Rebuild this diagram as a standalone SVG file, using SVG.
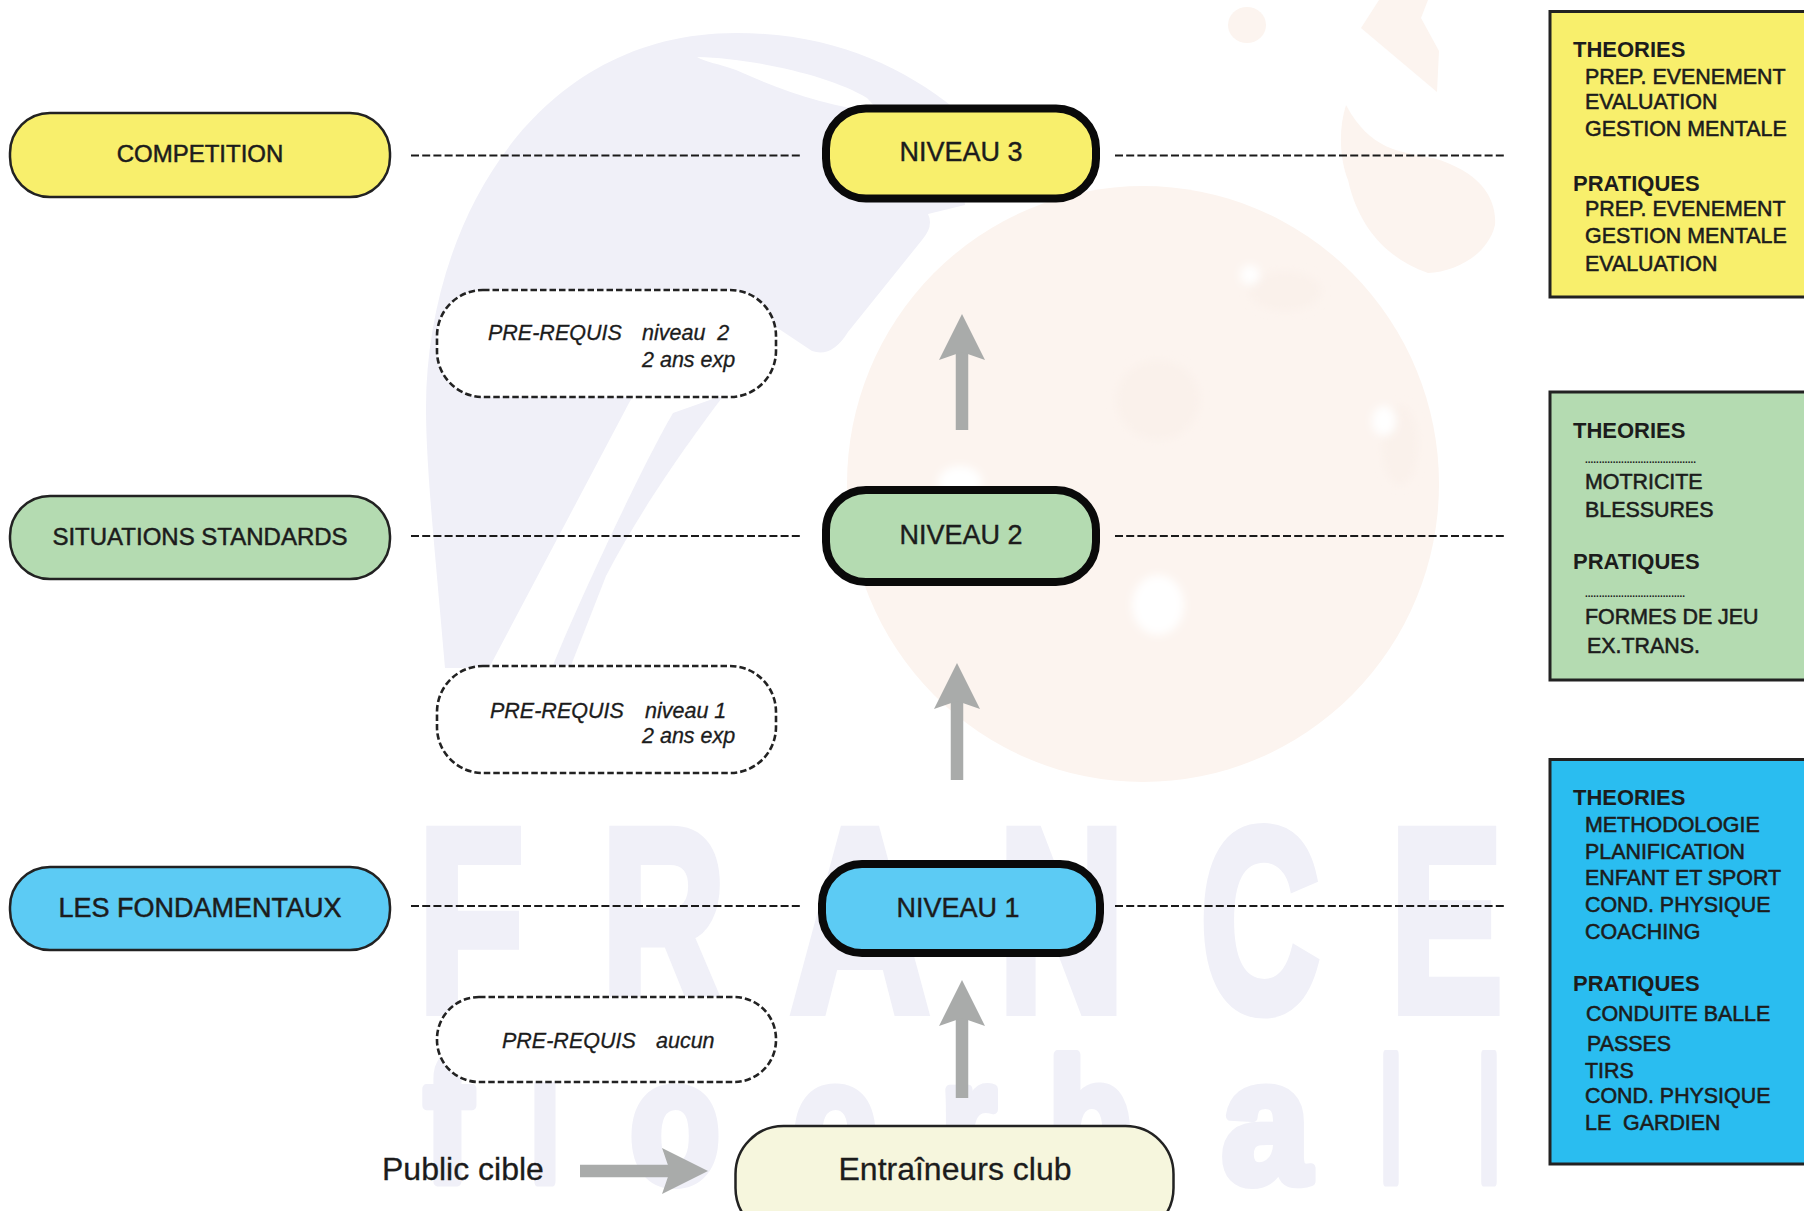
<svg xmlns="http://www.w3.org/2000/svg" width="1804" height="1211" viewBox="0 0 1804 1211">
<style>
text{font-family:"Liberation Sans",Arial,sans-serif;fill:#1c1c1c;white-space:pre}
.pill{stroke:#222;stroke-width:2.5}
.lvl{stroke:#0a0a0a;stroke-width:8}
.lbl{font-size:24px;text-anchor:middle;stroke:#1c1c1c;stroke-width:.5}
.lbl27{font-size:27px}
.lvt{font-size:27px;text-anchor:middle;stroke:#1c1c1c;stroke-width:.4}
.big{font-size:32px;stroke:#1c1c1c;stroke-width:.3}
.req{fill:#fff;stroke:#222;stroke-width:2.6;stroke-dasharray:6.500 3}
.rq{font-size:21.500px;font-style:italic;stroke:#1c1c1c;stroke-width:.3}
.box{stroke:#222;stroke-width:3}
.h{font-size:22px;font-weight:bold}
.i{font-size:21.400px;stroke:#1c1c1c;stroke-width:.55}
.dots{font-size:10px;font-weight:bold}
.dash{stroke:#1a1a1a;stroke-width:2.2;stroke-dasharray:8 3.2;fill:none}
.arrow{stroke:#a9abaa;stroke-width:12.500;fill:none;marker-end:url(#head)}
.wl{fill:#f0f0f8;stroke:#f0f0f8;stroke-width:10;font-weight:bold;font-size:262px}
.wf{fill:#f0f0f8;stroke:#f0f0f8;stroke-width:10;stroke-linejoin:round;font-weight:bold;font-size:174px}
.lav{fill:#f0f0f8}
.pch{fill:#fcf4ef}
.blank{fill:#fff}
</style>
<defs>
<marker id="head" markerUnits="userSpaceOnUse" markerWidth="46" markerHeight="46" viewBox="0 0 46 46" refX="10" refY="23" orient="auto">
<path d="M0,0 L46,23 L0,46 L8,23 Z" fill="#a9abaa"/>
</marker>
<filter id="soft" x="-30%" y="-30%" width="160%" height="160%"><feGaussianBlur stdDeviation="4"/></filter>
</defs>

<g id="watermark">
<path class="lav" d="M736,33 C830,33 900,65 954,108 L965,205 L928,214 Q934,226 922,240 L848,332 Q832,358 812,351 L776,327 L660,350 L629,403 L489,668 L445,668 C436,560 426,470 426,408 C426,230 530,33 736,33 Z"/>
<path class="blank" d="M697,57 C750,58 830,75 867,98 L880,112 C830,108 780,90 736,70 C720,64 705,62 697,57 Z"/>
<path class="lav" d="M552,668 C575,610 640,470 673,413 L724,395 C690,440 640,510 606,576 L570,668 Z"/>
<path class="pch" d="M1346,105 C1338,130 1340,160 1348,180 C1358,225 1385,258 1428,273 C1455,272 1488,255 1495,225 C1497,200 1482,172 1433,158 C1400,152 1370,150 1346,105 Z"/>
<path class="pch" d="M1379,0 L1361,28 L1437,92 L1439,51 L1421,18 L1428,0 Z"/>
<ellipse class="pch" cx="1247" cy="25" rx="19" ry="18"/>
<ellipse class="pch" cx="1143" cy="484" rx="296" ry="298"/>
<g filter="url(#soft)">
<ellipse cx="1158" cy="400" rx="42" ry="40" fill="#faf1eb"/>
<ellipse cx="1285" cy="291" rx="36" ry="20" fill="#faf1eb"/>
<ellipse cx="1400" cy="445" rx="18" ry="40" fill="#faf1eb"/>
<ellipse cx="1158" cy="605" rx="26" ry="30" fill="#fff"/>
<ellipse cx="1384" cy="421" rx="12" ry="15" fill="#fff"/>
<ellipse cx="1250" cy="275" rx="10" ry="10" fill="#fff"/>
<ellipse cx="960" cy="482" rx="22" ry="16" fill="#fff"/>
</g>
<text class="wl" x="418" y="1011" textLength="106" lengthAdjust="spacingAndGlyphs">F</text>
<text class="wl" x="601" y="1011" textLength="125" lengthAdjust="spacingAndGlyphs">R</text>
<text class="wl" x="790" y="1011" textLength="140" lengthAdjust="spacingAndGlyphs">A</text>
<text class="wl" x="998" y="1011" textLength="127" lengthAdjust="spacingAndGlyphs">N</text>
<text class="wl" x="1200" y="1011" textLength="120" lengthAdjust="spacingAndGlyphs">C</text>
<text class="wl" x="1390" y="1011" textLength="113" lengthAdjust="spacingAndGlyphs">E</text>
<text class="wf" x="424" y="1182" textLength="48" lengthAdjust="spacingAndGlyphs">f</text>
<text class="wf" x="530" y="1182" textLength="30" lengthAdjust="spacingAndGlyphs">l</text>
<text class="wf" x="630" y="1182" textLength="90" lengthAdjust="spacingAndGlyphs">o</text>
<text class="wf" x="793" y="1182" textLength="84" lengthAdjust="spacingAndGlyphs">o</text>
<text class="wf" x="940" y="1182" textLength="56" lengthAdjust="spacingAndGlyphs">r</text>
<text class="wf" x="1048" y="1182" textLength="84" lengthAdjust="spacingAndGlyphs">b</text>
<text class="wf" x="1222" y="1182" textLength="88" lengthAdjust="spacingAndGlyphs">a</text>
<text class="wf" x="1380" y="1182" textLength="22" lengthAdjust="spacingAndGlyphs">l</text>
<text class="wf" x="1478" y="1182" textLength="22" lengthAdjust="spacingAndGlyphs">l</text>
</g>

<g id="connectors">
<line class="dash" x1="411" y1="155.500" x2="803" y2="155.500"/>
<line class="dash" x1="1115" y1="155.500" x2="1507" y2="155.500"/>
<line class="dash" x1="411" y1="536" x2="803" y2="536"/>
<line class="dash" x1="1115" y1="536" x2="1507" y2="536"/>
<line class="dash" x1="411" y1="906" x2="803" y2="906"/>
<line class="dash" x1="1115" y1="906" x2="1507" y2="906"/>
<line class="arrow" x1="962" y1="430" x2="962" y2="350"/>
<line class="arrow" x1="957" y1="780" x2="957" y2="699"/>
<line class="arrow" x1="962" y1="1098" x2="962" y2="1016"/>
<line class="arrow" x1="580" y1="1171" x2="672" y2="1171"/>
</g>

<g id="competition"><rect class="pill" x="10" y="113" width="380" height="84" rx="40" fill="#f8ef6c"/><text class="lbl" x="200" y="162">COMPETITION</text></g>
<g id="situations-standards"><rect class="pill" x="10" y="496" width="380" height="83" rx="40" fill="#b4dbb1"/><text class="lbl" x="200" y="545">SITUATIONS STANDARDS</text></g>
<g id="les-fondamentaux"><rect class="pill" x="10" y="867" width="380" height="83" rx="40" fill="#5ccbf4"/><text class="lbl lbl27" x="200" y="917">LES FONDAMENTAUX</text></g>

<g id="niveau-3"><rect class="lvl" x="826" y="108.500" width="270" height="90" rx="40" fill="#f8ef6c"/><text class="lvt" x="961" y="161">NIVEAU 3</text></g>
<g id="niveau-2"><rect class="lvl" x="826" y="490" width="270" height="92" rx="40" fill="#b4dbb1"/><text class="lvt" x="961" y="544">NIVEAU 2</text></g>
<g id="niveau-1"><rect class="lvl" x="822" y="864" width="278" height="89" rx="40" fill="#5ccbf4"/><text class="lvt" x="958" y="917">NIVEAU 1</text></g>

<g id="prerequis-2"><rect class="req" x="437" y="290" width="339" height="107" rx="46"/><text class="rq" x="488" y="340">PRE-REQUIS</text><text class="rq" x="642" y="340">niveau  2</text><text class="rq" x="642" y="367">2 ans exp</text></g>
<g id="prerequis-1"><rect class="req" x="437" y="666" width="339" height="107" rx="46"/><text class="rq" x="490" y="718">PRE-REQUIS</text><text class="rq" x="645" y="718">niveau 1</text><text class="rq" x="642" y="743">2 ans exp</text></g>
<g id="prerequis-0"><rect class="req" x="437" y="997" width="339" height="85" rx="42"/><text class="rq" x="502" y="1048">PRE-REQUIS</text><text class="rq" x="656" y="1048">aucun</text></g>

<g id="public-cible"><text class="big" x="382" y="1180">Public cible</text></g>
<g id="entraineurs-club"><rect class="pill" x="735.500" y="1126" width="438" height="110" rx="48" fill="#f6f6dd"/><text class="big" x="955" y="1180" text-anchor="middle">Entraîneurs club</text></g>

<g id="panel-niveau-3"><rect class="box" x="1550" y="11.500" width="270" height="285.500" fill="#f8ef6c"/>
<text class="h" x="1573" y="57">THEORIES</text>
<text class="i" x="1585" y="84">PREP. EVENEMENT</text>
<text class="i" x="1585" y="109">EVALUATION</text>
<text class="i" x="1585" y="136">GESTION MENTALE</text>
<text class="h" x="1573" y="191">PRATIQUES</text>
<text class="i" x="1585" y="216">PREP. EVENEMENT</text>
<text class="i" x="1585" y="243">GESTION MENTALE</text>
<text class="i" x="1585" y="271">EVALUATION</text></g>

<g id="panel-niveau-2"><rect class="box" x="1550" y="392" width="270" height="288" fill="#b4dbb1"/>
<text class="h" x="1573" y="438">THEORIES</text>
<text class="dots" x="1585" y="463">........................................</text>
<text class="i" x="1585" y="489">MOTRICITE</text>
<text class="i" x="1585" y="517">BLESSURES</text>
<text class="h" x="1573" y="569">PRATIQUES</text>
<text class="dots" x="1585" y="597">....................................</text>
<text class="i" x="1585" y="624">FORMES DE JEU</text>
<text class="i" x="1587" y="653">EX.TRANS.</text></g>

<g id="panel-niveau-1"><rect class="box" x="1550" y="759.500" width="270" height="404.500" fill="#2abdf0"/>
<text class="h" x="1573" y="805">THEORIES</text>
<text class="i" x="1585" y="832">METHODOLOGIE</text>
<text class="i" x="1585" y="859">PLANIFICATION</text>
<text class="i" x="1585" y="885">ENFANT ET SPORT</text>
<text class="i" x="1585" y="912">COND. PHYSIQUE</text>
<text class="i" x="1585" y="939">COACHING</text>
<text class="h" x="1573" y="991">PRATIQUES</text>
<text class="i" x="1586" y="1021">CONDUITE BALLE</text>
<text class="i" x="1587" y="1051">PASSES</text>
<text class="i" x="1585" y="1078">TIRS</text>
<text class="i" x="1585" y="1103">COND. PHYSIQUE</text>
<text class="i" x="1585" y="1130">LE  GARDIEN</text></g>
</svg>
